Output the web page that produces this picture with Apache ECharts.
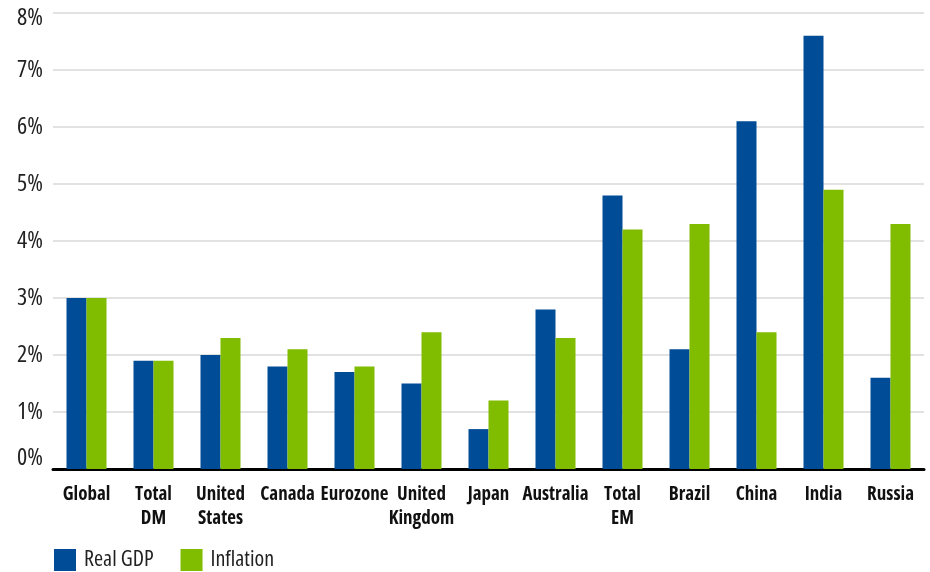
<!DOCTYPE html>
<html>
<head>
<meta charset="utf-8">
<script src="https://cdn.jsdelivr.net/npm/echarts@6/dist/echarts.min.js"></script>
<style>
  html, body { margin: 0; padding: 0; background: #fff; }
  #chart { width: 930px; height: 572px; }
</style>
</head>
<body>
<div id="chart"></div>
<script>
// Forecast growth and inflation by region (percent)
const categories = ['Global', 'Total\nDM', 'United\nStates', 'Canada', 'Eurozone', 'United\nKingdom',
  'Japan', 'Australia', 'Total\nEM', 'Brazil', 'China', 'India', 'Russia'];
const realGdp   = [3.0, 1.9, 2.0, 1.8, 1.7, 1.5, 0.7, 2.8, 4.8, 2.1, 6.1, 7.6, 1.6];
const inflation = [3.0, 1.9, 2.3, 2.1, 1.8, 2.4, 1.2, 2.3, 4.2, 4.3, 2.4, 4.9, 4.3];
const yTicks = [0, 1, 2, 3, 4, 5, 6, 7, 8];

// Condensed faces: the stretch keyword rides along in the weight slot of the canvas font string
const FONT = '"Open Sans", "DejaVu Sans", sans-serif';
const BLUE = '#004c97';
const GREEN = '#80bc00';

const yMin = yTicks[0];
const yMax = yTicks[yTicks.length - 1];

const chart = echarts.init(document.getElementById('chart'), null, { renderer: 'canvas' });
chart.setOption({
  animation: false,
  backgroundColor: '#ffffff',
  grid: { left: 53, right: 6, top: 13, bottom: 103, containLabel: false },
  legend: {
    left: 54, bottom: 1, padding: 0,
    itemWidth: 22, itemHeight: 22, itemGap: 27,
    icon: 'rect',
    textStyle: { fontFamily: FONT, fontSize: 22, fontWeight: 'normal condensed', color: '#222', padding: [0, 0, 0, 3] },
    data: ['Real GDP', 'Inflation']
  },
  xAxis: {
    type: 'category',
    data: categories,
    axisLine: { lineStyle: { color: '#000', width: 3 } },
    axisTick: { show: false },
    axisLabel: {
      interval: 0, margin: 14,
      fontFamily: FONT, fontSize: 19, fontWeight: 'bold condensed', color: '#111',
      lineHeight: 24
    }
  },
  yAxis: {
    type: 'value',
    min: yMin, max: yMax, interval: 1,
    axisLine: { show: false },
    axisTick: { show: false },
    splitLine: { lineStyle: { color: '#d9d9d9', width: 1.5 } },
    axisLabel: {
      margin: 10,
      fontFamily: FONT, fontSize: 24, fontWeight: 'normal condensed', color: '#222',
      // lift the bottom label clear of the baseline, drop the top one inside the frame
      formatter: v => v === yMin ? '{lo|' + v + '%}' : v === yMax ? '{hi|' + v + '%}' : v + '%',
      rich: {
        lo: { padding: [0, 0, 22, 0] },
        hi: { padding: [10, 0, 0, 0] }
      }
    }
  },
  series: [
    { name: 'Real GDP', type: 'bar', data: realGdp, barWidth: 20, barGap: '0%',
      itemStyle: { color: BLUE } },
    { name: 'Inflation', type: 'bar', data: inflation, barWidth: 20, barGap: '0%',
      itemStyle: { color: GREEN } }
  ]
});
</script>
</body>
</html>
